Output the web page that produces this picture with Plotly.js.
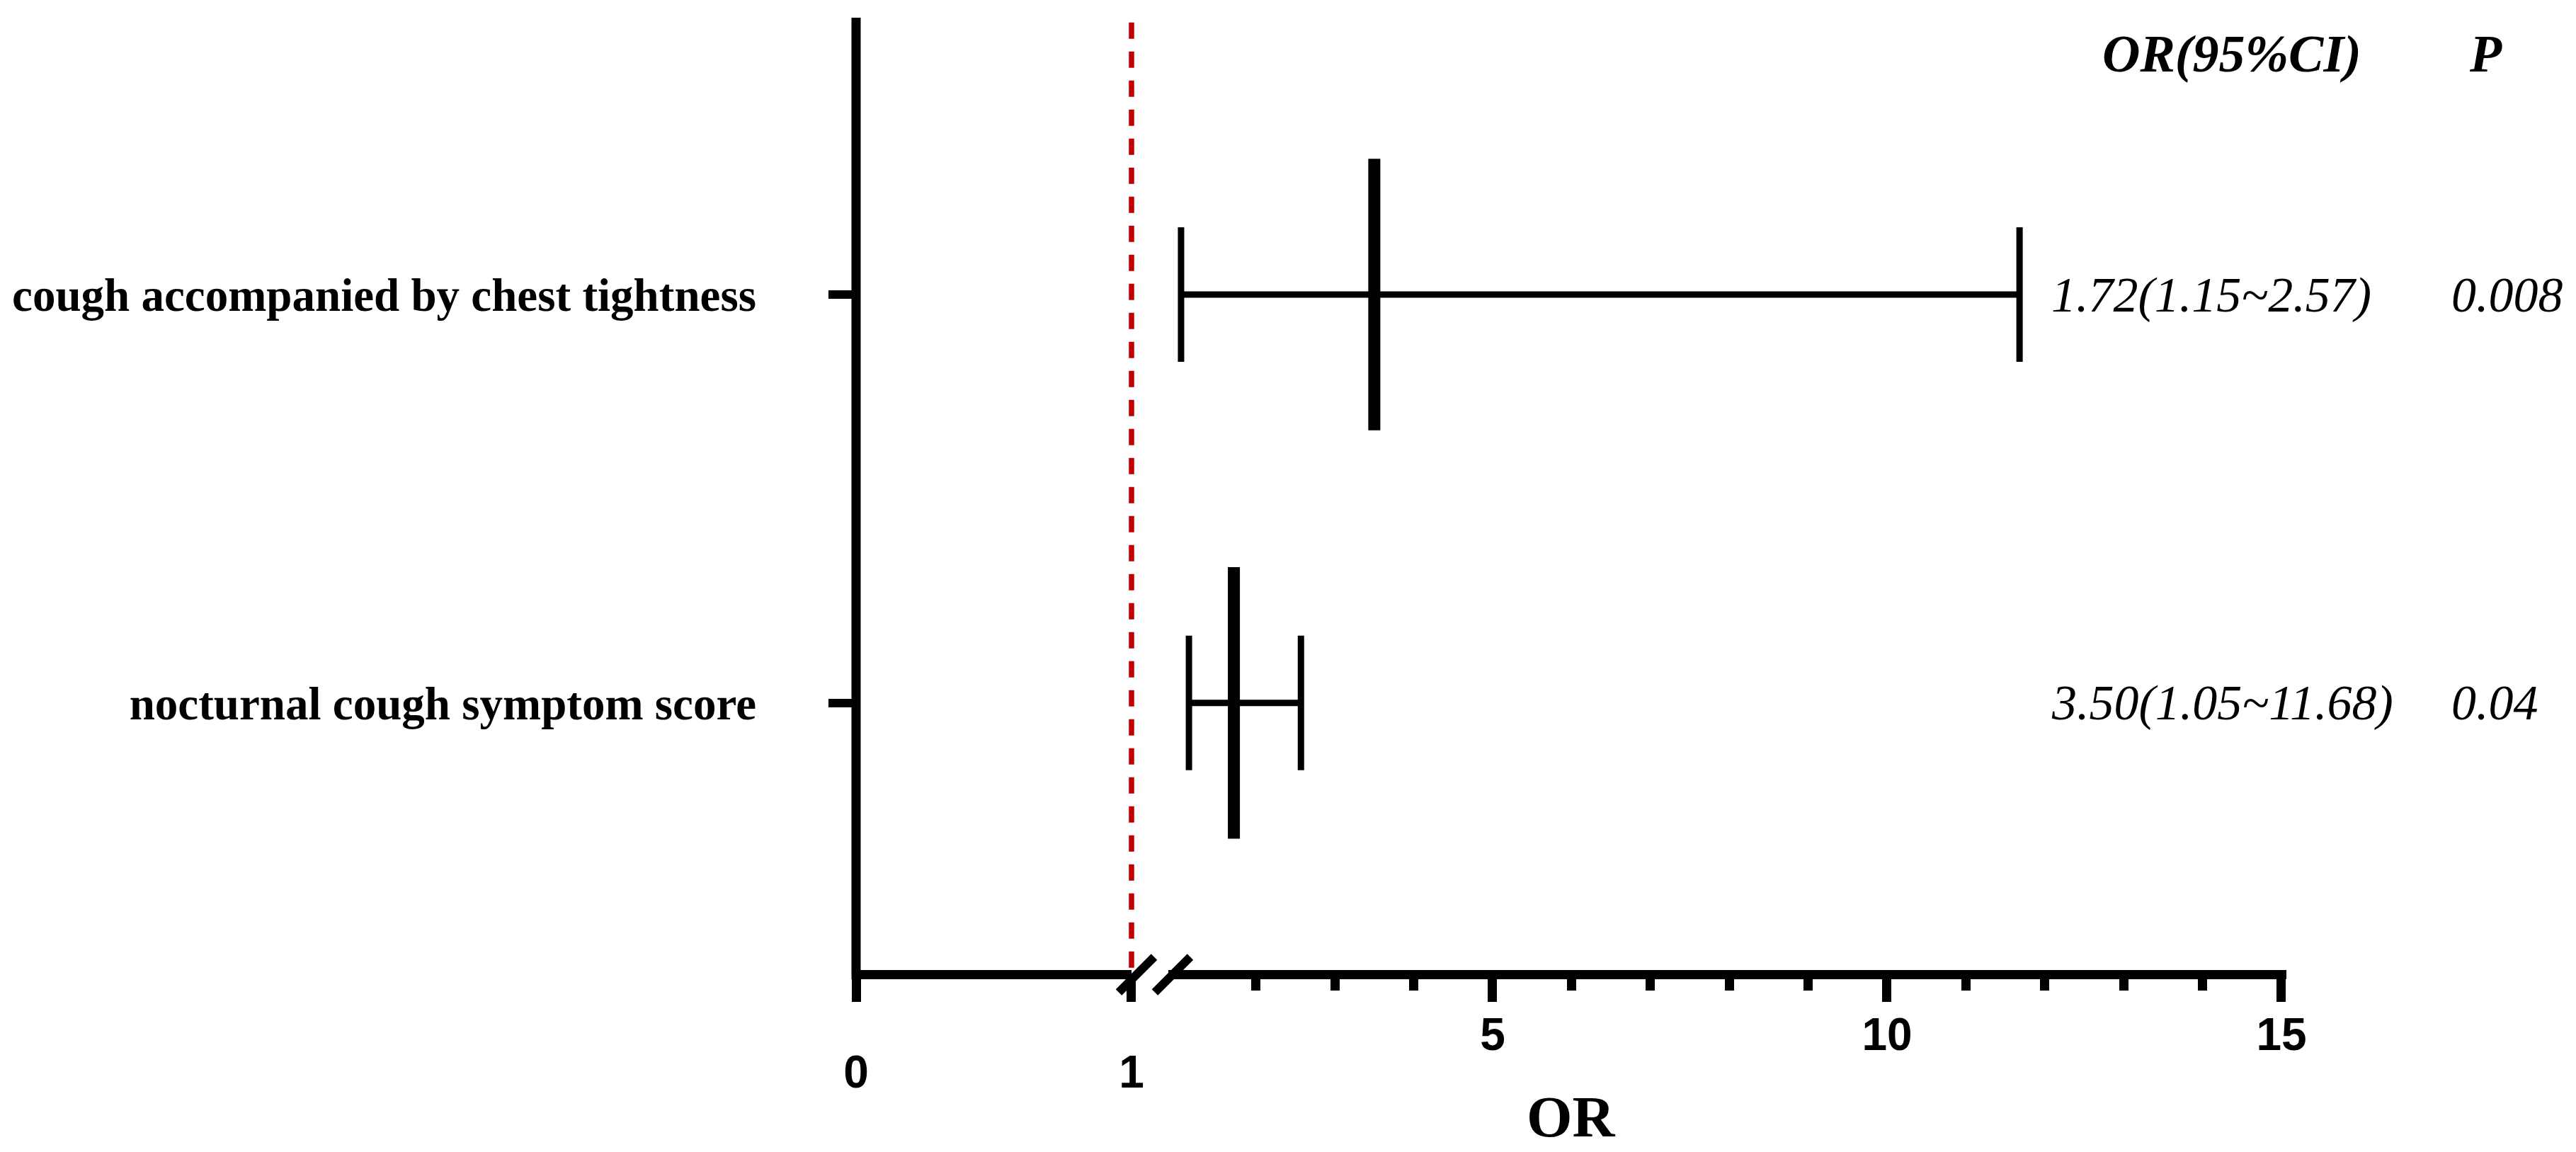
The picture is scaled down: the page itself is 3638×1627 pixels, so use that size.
<!DOCTYPE html>
<html>
<head>
<meta charset="utf-8">
<script src="https://cdn.plot.ly/plotly-3.0.1.min.js"></script>
<style>
  html, body { margin: 0; padding: 0; background: #fff; }
  #forest { width: 3638px; height: 1627px; }
</style>
</head>
<body>
<div id="forest"></div>
<script>
/* ─── Forest plot: OR with 95% CI ─── */

// rows, bottom to top
const labels = ['nocturnal cough symptom score', 'cough accompanied by chest tightness'];
const rowPos = [1, 2];
const orVals = [1.72, 3.50];
const ciLow = [1.15, 1.05];
const ciHigh = [2.57, 11.68];

// text columns as printed on the figure
const ciText = ['3.50(1.05~11.68)', '1.72(1.15~2.57)'];
const pText = ['0.04', '0.008'];

// broken x axis: [0, 1] then [1, 15]
const lowTicks = [0, 1];
const highTicks = [5, 10, 15];
const highMinor = [2, 3, 4, 6, 7, 8, 9, 11, 12, 13, 14];

const SERIF = '"Liberation Serif", "Times New Roman", serif';
const SANS = '"Liberation Sans", Arial, sans-serif';

const trace = {
    x: orVals,
    y: rowPos,
    xaxis: 'x2',
    yaxis: 'y',
    type: 'scatter',
    mode: 'markers',
    marker: { symbol: 'line-ns', size: 274, color: '#000', line: { color: '#000', width: 17 } },
    error_x: {
        type: 'data',
        symmetric: false,
        array: ciHigh.map((h, i) => h - orVals[i]),
        arrayminus: ciLow.map((l, i) => orVals[i] - l),
        color: '#000',
        thickness: 9,
        width: 95,
    },
    hoverinfo: 'skip',
    showlegend: false,
};

// empty trace so the left segment (x, y) subplot gets drawn
const lowSegment = { x: [], y: [], xaxis: 'x', yaxis: 'y', type: 'scatter', mode: 'markers', hoverinfo: 'skip', showlegend: false };

const tickFont = { family: SANS, size: 64, color: '#000', weight: 'bold' };

const annotations = [
    { text: 'OR(95%CI)', x: 0.962, y: 0.962, font: { family: SERIF, size: 74, style: 'italic', weight: 'bold' } },
    { text: 'P', x: 1.1396, y: 0.962, font: { family: SERIF, size: 74, style: 'italic', weight: 'bold' } },
    { text: 'OR', x: 0.5, y: -0.154, font: { family: SERIF, size: 83, weight: 'bold' } },
];
rowPos.forEach((r, i) => {
    annotations.push({ text: ciText[i], x: 0.8347, y: r, yref: 'y', xanchor: 'left',
        font: { family: SERIF, size: 70, style: 'italic' } });
    annotations.push({ text: pText[i], x: 1.1144, y: r, yref: 'y', xanchor: 'left',
        font: { family: SERIF, size: 70, style: 'italic' } });
});
annotations.forEach(a => {
    a.xref = 'paper';
    a.yref = a.yref || 'paper';
    a.xanchor = a.xanchor || 'center';
    a.yanchor = 'middle';
    a.showarrow = false;
    a.font.color = '#000';
});

// 'x domain' refs are not clipped to the subplot; on [0, 1] the domain fraction equals the OR value
const slash = at => ({
    type: 'line', xref: 'x domain', xsizemode: 'pixel', xanchor: at, x0: -25, x1: 25,
    yref: 'paper', ysizemode: 'pixel', yanchor: -0.00483, y0: -25, y1: 25,
    line: { color: '#000', width: 12 }, layer: 'above',
});

const shapes = [
    // y axis line at OR = 0
    { type: 'line', xref: 'x domain', x0: 0, x1: 0, yref: 'paper', y0: -0.00966, y1: 1,
      line: { color: '#000', width: 13 } },
    // reference line at OR = 1
    { type: 'line', xref: 'x domain', x0: 1, x1: 1, yref: 'paper', y0: 0.995, y1: 0,
      line: { color: '#C00000', width: 7.5, dash: '23px,18px' }, layer: 'below' },
    slash(1.018),
    slash(1.149),
];

const layout = {
    width: 3638,
    height: 1627,
    margin: { l: 1209, r: 409, t: 25, b: 256.5 },
    paper_bgcolor: '#fff',
    plot_bgcolor: '#fff',
    showlegend: false,
    xaxis: {
        domain: [0, 0.19257],
        range: [0, 1],
        anchor: 'y',
        tickmode: 'array',
        tickvals: lowTicks,
        ticktext: lowTicks.map(String),
        ticks: 'outside', ticklen: 32, tickwidth: 13, tickcolor: '#000',
        tickfont: tickFont,
        ticklabelstandoff: 44,
        showline: true, linewidth: 13, linecolor: '#000',
        showgrid: false, zeroline: false,
    },
    xaxis2: {
        domain: [0.21832, 1],
        range: [0.889, 15.063],
        anchor: 'y',
        tickmode: 'array',
        tickvals: highTicks,
        ticktext: highTicks.map(String),
        ticks: 'outside', ticklen: 32, tickwidth: 13, tickcolor: '#000',
        tickfont: tickFont,
        ticklabelstandoff: -9,
        minor: { tickmode: 'array', tickvals: highMinor, ticks: 'outside', ticklen: 16, tickwidth: 13, tickcolor: '#000', showgrid: false },
        showline: true, linewidth: 13, linecolor: '#000',
        showgrid: false, zeroline: false,
    },
    yaxis: {
        range: [0.346, 2.678],
        anchor: 'x',
        tickmode: 'array',
        tickvals: rowPos,
        ticktext: labels,
        ticks: 'outside', ticklen: 38, tickwidth: 12, tickcolor: '#000',
        tickfont: { family: SERIF, size: 65, color: '#000', weight: 'bold' },
        ticklabelstandoff: 89,
        showline: false, showgrid: false, zeroline: false,
    },
    shapes: shapes,
    annotations: annotations,
};

Plotly.newPlot('forest', [lowSegment, trace], layout, { staticPlot: true, displayModeBar: false });
</script>
</body>
</html>
